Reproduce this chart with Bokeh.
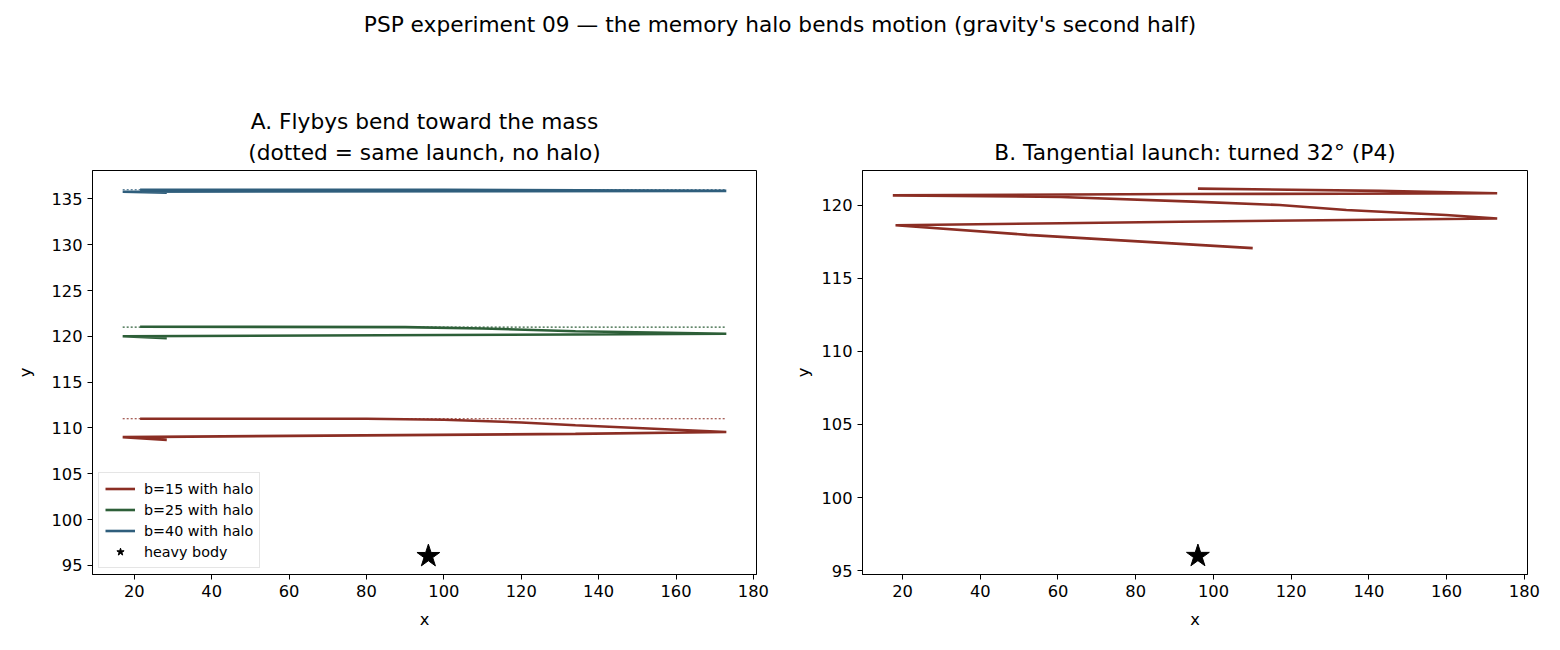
from bokeh.plotting import figure
from bokeh.models import Range1d, FixedTicker, Div, Title, Legend, LegendItem
from bokeh.layouts import column, row
from bokeh.embed import file_html
from bokeh.resources import INLINE

# ---------------- data ----------------
body_x = [96]
body_y = [96]

# Panel A: flybys with halo (solid) and no-halo reference (dotted)
b15_x = [21.5, 80, 100, 120, 134, 150, 173, 134, 17, 28.4]
b15_y = [111.0, 111.0, 110.9, 110.6, 110.3, 110.0, 109.55, 109.35, 109.0, 108.7]
b25_x = [21.5, 90, 110, 134, 173, 134, 17, 28.4]
b25_y = [121.05, 121.0, 120.85, 120.56, 120.28, 120.2, 120.0, 119.8]
b40_x = [21.5, 100, 173, 17, 28.4]
b40_y = [136.0, 136.0, 135.88, 135.78, 135.68]

nohalo_x = [17, 173]
nohalo15_y = [111.0, 111.0]
nohalo25_y = [121.0, 121.0]
nohalo40_y = [136.0, 136.0]

# Panel B: tangential launch
tan_x = [96, 142.7, 173, 91.4, 17.5, 60.7, 94.8, 117, 134.2, 159.8, 173,
         134.2, 91.4, 60.7, 18.2, 52.1, 110.1]
tan_y = [121.12, 120.97, 120.8, 120.75, 120.66, 120.55, 120.23, 120.0, 119.66, 119.32, 119.08,
         118.98, 118.86, 118.75, 118.62, 117.96, 117.05]

x_ticks = [20, 40, 60, 80, 100, 120, 140, 160, 180]
ya_ticks = [95, 100, 105, 110, 115, 120, 125, 130, 135]
yb_ticks = [95, 100, 105, 110, 115, 120]

RED = "#8b2e24"
GREEN = "#2d5f38"
BLUE = "#2f5e7c"
FONT = "DejaVu Sans"
TITLE_SIZE = "21.7px"
TICK_SIZE = "16.3px"


def style(p, yticks, ylab_standoff):
    p.xgrid.visible = False
    p.ygrid.visible = False
    p.outline_line_color = "black"
    p.outline_line_width = 1
    p.outline_line_alpha = 1
    p.xaxis.ticker = FixedTicker(ticks=x_ticks)
    p.yaxis.ticker = FixedTicker(ticks=yticks)
    for ax in (p.xaxis[0], p.yaxis[0]):
        ax.axis_line_color = "black"
        ax.major_tick_line_color = "black"
        ax.major_tick_out = 5
        ax.major_tick_in = 0
        ax.minor_tick_line_color = None
        ax.major_label_text_font = FONT
        ax.major_label_text_font_size = TICK_SIZE
        ax.major_label_text_color = "black"
        ax.major_label_standoff = 5
        ax.axis_label_text_font = FONT
        ax.axis_label_text_font_size = TICK_SIZE
        ax.axis_label_text_font_style = "normal"
        ax.axis_label_text_color = "black"
    p.xaxis.axis_label = "x"
    p.yaxis.axis_label = "y"
    p.xaxis.axis_label_standoff = 10
    p.yaxis.axis_label_standoff = ylab_standoff


def add_title(p, text, standoff):
    p.add_layout(Title(text=text, align="center", text_font=FONT, text_color="black",
                       text_font_size=TITLE_SIZE, text_font_style="normal",
                       standoff=standoff), "above")


# ---------------- panel A ----------------
pa = figure(width=790, height=590, output_backend="svg", toolbar_location=None,
            x_range=Range1d(9.2, 180.8), y_range=Range1d(94.0, 138.1),
            min_border_left=92, min_border_right=34, min_border_top=110, min_border_bottom=76)
pa.title = None
add_title(pa, "(dotted = same launch, no halo)", 12)
add_title(pa, "A. Flybys bend toward the mass", -5)
style(pa, ya_ticks, 13)

pa.line(nohalo_x, nohalo15_y, color=RED, line_width=1.2, line_dash="2 2")
pa.line(nohalo_x, nohalo25_y, color=GREEN, line_width=1.2, line_dash="2 2")
pa.line(nohalo_x, nohalo40_y, color=BLUE, line_width=1.2, line_dash="2 2")
r15 = pa.line(b15_x, b15_y, color=RED, line_width=2.6)
r25 = pa.line(b25_x, b25_y, color=GREEN, line_width=2.6)
r40 = pa.line(b40_x, b40_y, color=BLUE, line_width=2.6)
rstar = pa.scatter(body_x, body_y, marker="star", size=24, color="black")

leg = Legend(items=[LegendItem(label="b=15 with halo", renderers=[r15]),
                    LegendItem(label="b=25 with halo", renderers=[r25]),
                    LegendItem(label="b=40 with halo", renderers=[r40]),
                    LegendItem(label="heavy body", renderers=[rstar])],
             location="bottom_left")
leg.label_text_font = FONT
leg.label_text_font_size = "14.3px"
leg.label_text_color = "black"
leg.glyph_width = 30
leg.glyph_height = 19
leg.label_height = 19
leg.spacing = 2
leg.padding = 6
leg.margin = 6
leg.border_line_color = "#cccccc"
leg.border_line_width = 1
leg.background_fill_alpha = 0.8
leg.label_standoff = 9
pa.add_layout(leg)

# ---------------- panel B ----------------
pb = figure(width=770, height=590, output_backend="svg", toolbar_location=None,
            x_range=Range1d(9.7, 180.8), y_range=Range1d(94.74, 122.36),
            min_border_left=72, min_border_right=33, min_border_top=110, min_border_bottom=76)
pb.title = None
add_title(pb, "B. Tangential launch: turned 32° (P4)", 12)
style(pb, yb_ticks, 5)
pb.line(tan_x, tan_y, color=RED, line_width=2.6)
pb.scatter(body_x, body_y, marker="star", size=24, color="black")

head = Div(text="PSP experiment 09 — the memory halo bends motion (gravity's second half)",
           width=1560, height=60, margin=0,
           styles={"font-family": FONT, "font-size": TITLE_SIZE, "text-align": "center",
                   "padding-top": "9px", "color": "black", "box-sizing": "border-box",
                   "width": "1560px"})

layout = column(head, row(pa, pb))
open("out.html", "w").write(file_html(layout, INLINE))
